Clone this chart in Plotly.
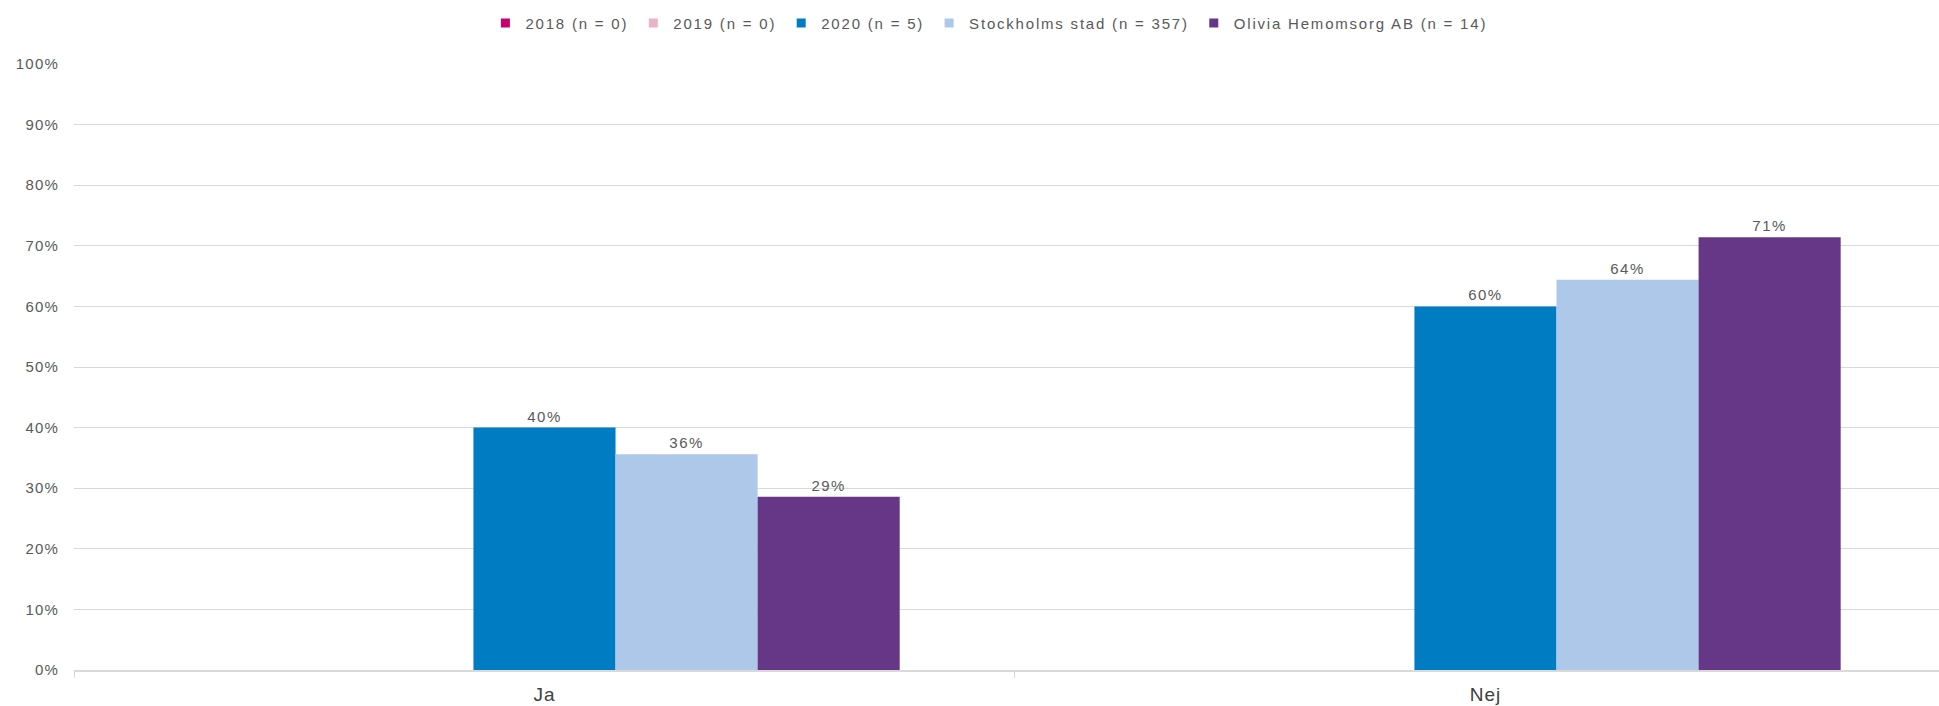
import plotly.graph_objects as go

categories = ["Ja", "Nej"]
series_names = ["2018 (n = 0)", "2019 (n = 0)", "2020 (n = 5)",
                "Stockholms stad (n = 357)", "Olivia Hemomsorg AB (n = 14)"]
series_values = [
    [None, None],
    [None, None],
    [0.40, 0.60],
    [0.356, 0.644],
    [0.286, 0.714],
]
series_colors = ["#C8006E", "#E9B2C9", "#007CC3", "#AEC8EA", "#673787"]
y_tick_vals = [0, 0.1, 0.2, 0.3, 0.4, 0.5, 0.6, 0.7, 0.8, 0.9, 1.0]
y_tick_text = ["0%", "10%", "20%", "30%", "40%", "50%", "60%", "70%", "80%", "90%", "100%"]

FONT = "Arial, Liberation Sans, sans-serif"


def spaced(s, px):
    return f'<span style="letter-spacing:{px}px">{s}</span>'


fig = go.Figure()
for name, vals, col in zip(series_names, series_values, series_colors):
    fig.add_trace(go.Bar(
        x=categories, y=vals, name=name,
        marker=dict(color=col, line=dict(width=0)),
        texttemplate=spaced("%{y:.0%}", 1.5), textposition="outside",
        textfont=dict(family=FONT, size=15, color="#595959"),
        cliponaxis=False, showlegend=False,
    ))
    fig.add_trace(go.Scatter(
        x=[None], y=[None], name=spaced(name, 1.8), mode="markers",
        marker=dict(symbol="square", size=9, color=col),
        showlegend=True,
    ))

fig.update_layout(
    width=1939, height=706,
    margin=dict(l=74, r=0, t=64, b=36, autoexpand=False),
    paper_bgcolor="white", plot_bgcolor="white",
    barmode="group", bargap=0.245, bargroupgap=0,
    font=dict(family=FONT, color="#595959"),
    legend=dict(orientation="h", xref="container", yref="container",
                x=0.51, xanchor="center", y=0.967, yanchor="middle",
                font=dict(family=FONT, size=15, color="#595959"),
                itemwidth=30, tracegroupgap=0),
    xaxis=dict(range=[-0.5, 1.482], showgrid=False,
               tickvals=categories,
               ticktext=[spaced(c, 1) for c in categories],
               showline=True, linecolor="#D9D9D9", linewidth=2,
               ticks="outside", tickson="boundaries", ticklen=6,
               tickcolor="#D9D9D9", tickwidth=1,
               ticklabelstandoff=6,
               tickfont=dict(family=FONT, size=19, color="#404040")),
    yaxis=dict(range=[0, 1], tickvals=y_tick_vals,
               ticktext=[spaced(t, 1.2) for t in y_tick_text],
               showgrid=True, gridcolor="#D9D9D9", gridwidth=1,
               zeroline=False, showline=False, ticks="",
               ticklabelstandoff=14,
               tickfont=dict(family=FONT, size=15, color="#595959")),
)

fig.write_html("out.html",
               config={"displayModeBar": False},
               post_script="document.body.style.margin='0';"
                           "document.body.style.overflow='hidden';")
